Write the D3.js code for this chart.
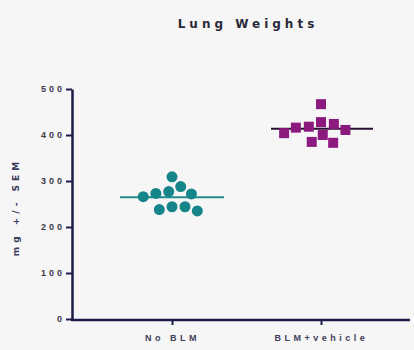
<!DOCTYPE html>
<html>
<head>
<meta charset="utf-8">
<script src="https://cdn.jsdelivr.net/npm/d3@7"></script>
<style>
  body { margin: 0; background: #f6f6f6; }
  svg { display: block; font-family: "DejaVu Sans", sans-serif; }
</style>
</head>
<body>
<div id="chart"></div>
<script>
// donnees
var groupes = ["No BLM", "BLM+vehicle"];
var noBLM = [309, 288, 277, 273, 272, 266, 244, 244, 238, 235];
var blmVehicle = [467, 428, 424, 418, 416, 411, 404, 400, 385, 383];
var yTicks = [0, 100, 200, 300, 400, 500];
var titre = "Lung Weights";
var yTitre = "mg +/- SEM";

const width = 414, height = 350;

var svg = d3.select("#chart")
  .append("svg")
  .attr("width", width)
  .attr("height", height);

var y = d3.scaleLinear().domain([0, 500]).range([319, 89]);
var x = d3.scalePoint().domain(groupes).range([172, 321]);

var axeCouleur = "#1d1d4a";

// titre
svg.append("text")
  .attr("x", 248).attr("y", 28)
  .attr("text-anchor", "middle")
  .style("font-size", "12px").style("font-weight", "bold")
  .style("letter-spacing", "4px")
  .attr("fill", "#2a2a3a")
  .text(titre);

// axe y
var gy = svg.append("g").attr("transform", "translate(72,0)")
  .call(d3.axisLeft(y).tickValues(yTicks).tickSize(6).tickSizeOuter(0).tickPadding(1));
gy.select(".domain").attr("stroke", axeCouleur).attr("stroke-width", 2.5);
gy.selectAll(".tick line").attr("stroke", axeCouleur).attr("stroke-width", 2);
gy.selectAll(".tick text")
  .style("font-size", "9px").style("font-weight", "bold")
  .style("letter-spacing", "3px").attr("fill", "#3a3a4a");

svg.append("text")
  .attr("transform", "translate(19,207) rotate(-90)")
  .attr("text-anchor", "middle")
  .style("font-size", "9px").style("font-weight", "bold")
  .style("letter-spacing", "4px")
  .attr("fill", "#3a3a5a")
  .text(yTitre);

// axe x
var gx = svg.append("g").attr("transform", "translate(0,320)")
  .call(d3.axisBottom(x).tickSize(5).tickSizeOuter(0).tickPadding(10));
gx.select(".domain").remove();
gx.append("line").attr("x1", 71).attr("x2", 410)
  .attr("stroke", axeCouleur).attr("stroke-width", 2.5);
gx.selectAll(".tick line").attr("stroke", axeCouleur).attr("stroke-width", 2);
gx.selectAll(".tick text")
  .style("font-size", "9px").style("font-weight", "bold")
  .style("letter-spacing", "3.5px").attr("fill", "#40405a");

// placement en essaim (beeswarm)
function essaim(valeurs, D) {
  var placés = [];
  valeurs.slice().sort(function(a, b) { return b - a; }).forEach(function(v) {
    var py = y(v);
    var candidats = [0];
    placés.forEach(function(p) {
      var dy = Math.abs(p.y - py);
      if (dy < D) {
        var dx = Math.sqrt(D * D - dy * dy);
        candidats.push(p.dx + dx, p.dx - dx);
      }
    });
    candidats.sort(function(a, b) { return Math.abs(a) - Math.abs(b); });
    var choix = candidats.find(function(c) {
      return placés.every(function(p) {
        return Math.hypot(p.dx - c, p.y - py) >= D - 0.01;
      });
    });
    placés.push({ v: v, y: py, dx: choix });
  });
  return placés;
}

var moyenne1 = d3.mean(noBLM), moyenne2 = d3.mean(blmVehicle);

// groupe 1 : cercles
svg.append("line")
  .attr("x1", x(groupes[0]) - 52).attr("x2", x(groupes[0]) + 52)
  .attr("y1", y(moyenne1)).attr("y2", y(moyenne1))
  .attr("stroke", "#1f8a8c").attr("stroke-width", 2);

svg.append("g").selectAll("circle")
  .data(essaim(noBLM, 13))
  .join("circle")
  .attr("cx", function(d) { return x(groupes[0]) + d.dx; })
  .attr("cy", function(d) { return d.y; })
  .attr("r", 5.5)
  .attr("fill", "#16858a");

// groupe 2 : carres
svg.append("line")
  .attr("x1", x(groupes[1]) - 50).attr("x2", x(groupes[1]) + 52)
  .attr("y1", y(moyenne2)).attr("y2", y(moyenne2))
  .attr("stroke", "#2a1030").attr("stroke-width", 2);

svg.append("g").selectAll("rect")
  .data(essaim(blmVehicle, 13))
  .join("rect")
  .attr("x", function(d) { return x(groupes[1]) + d.dx - 5; })
  .attr("y", function(d) { return d.y - 5; })
  .attr("width", 10).attr("height", 10)
  .attr("fill", "#8c1a7e");
</script>
</body>
</html>
